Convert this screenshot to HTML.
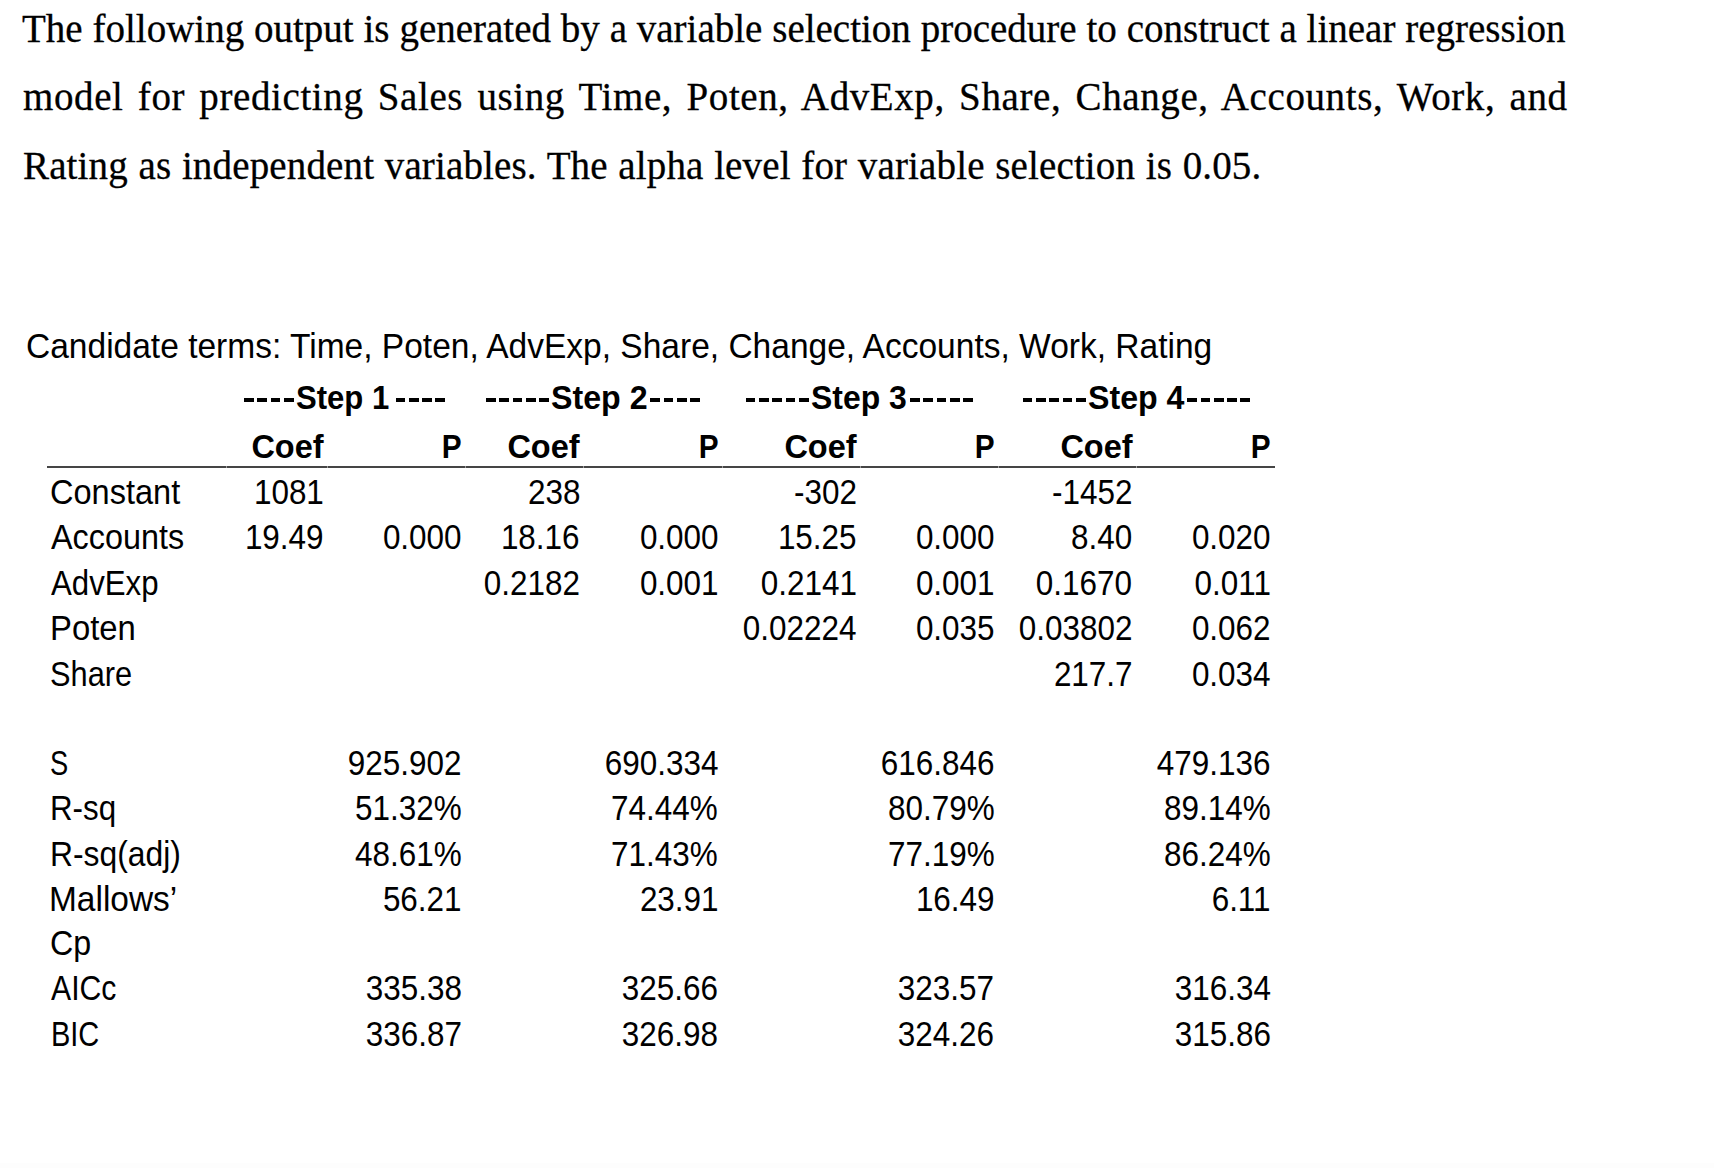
<!DOCTYPE html><html><head><meta charset="utf-8"><style>
html,body{margin:0;padding:0;background:#fff;width:1714px;height:1168px;overflow:hidden}
.a{position:absolute;white-space:nowrap;color:#000}
.s{font-family:"Liberation Serif",serif;font-size:40px;line-height:50px;transform-origin:0 0;transform:scaleX(0.975);-webkit-text-stroke:0.3px #000}
.n{font-family:"Liberation Sans",sans-serif;font-size:35px;line-height:40px}
.b{font-weight:bold;font-size:34px}
.r{text-align:right;transform-origin:100% 0;transform:scaleX(0.8986)}
.l{transform-origin:0 0}
.d{letter-spacing:2.3px}
.st{display:inline-block;transform:scaleX(0.91)}
</style></head><body>
<div class="a s" style="left:22.0px;top:4px;letter-spacing:0.000px;word-spacing:0.103px">The following output is generated by a variable selection procedure to construct a linear regression</div>
<div class="a s" style="left:22.7px;top:71.8px;letter-spacing:0.615px;word-spacing:4.062px">model for predicting Sales using Time, Poten, AdvExp, Share, Change, Accounts, Work, and</div>
<div class="a s" style="left:23.2px;top:140.7px;letter-spacing:0.154px;word-spacing:0.718px">Rating as independent variables. The alpha level for variable selection is 0.05.</div>
<div class="a n l" style="left:26.3px;top:326.2px;font-size:35px;transform:scaleX(0.9577)">Candidate terms: Time, Poten, AdvExp, Share, Change, Accounts, Work, Rating</div>
<div style="position:absolute;left:243.90px;top:398px;width:9.80px;height:4px;background:#000"></div>
<div style="position:absolute;left:257.20px;top:398px;width:9.80px;height:4px;background:#000"></div>
<div style="position:absolute;left:270.50px;top:398px;width:9.80px;height:4px;background:#000"></div>
<div style="position:absolute;left:283.80px;top:398px;width:9.80px;height:4px;background:#000"></div>
<div style="position:absolute;left:395.50px;top:398px;width:9.80px;height:4px;background:#000"></div>
<div style="position:absolute;left:408.80px;top:398px;width:9.80px;height:4px;background:#000"></div>
<div style="position:absolute;left:422.10px;top:398px;width:9.80px;height:4px;background:#000"></div>
<div style="position:absolute;left:435.40px;top:398px;width:9.80px;height:4px;background:#000"></div>
<div class="a n b l" style="left:295.99px;top:376.5px;transform:scaleX(0.9140)">Step 1</div>
<div style="position:absolute;left:486.00px;top:398px;width:9.80px;height:4px;background:#000"></div>
<div style="position:absolute;left:499.30px;top:398px;width:9.80px;height:4px;background:#000"></div>
<div style="position:absolute;left:512.60px;top:398px;width:9.80px;height:4px;background:#000"></div>
<div style="position:absolute;left:525.90px;top:398px;width:9.80px;height:4px;background:#000"></div>
<div style="position:absolute;left:539.20px;top:398px;width:9.80px;height:4px;background:#000"></div>
<div style="position:absolute;left:650.40px;top:398px;width:9.80px;height:4px;background:#000"></div>
<div style="position:absolute;left:663.70px;top:398px;width:9.80px;height:4px;background:#000"></div>
<div style="position:absolute;left:677.00px;top:398px;width:9.80px;height:4px;background:#000"></div>
<div style="position:absolute;left:690.30px;top:398px;width:9.80px;height:4px;background:#000"></div>
<div class="a n b l" style="left:550.85px;top:376.5px;transform:scaleX(0.9460)">Step 2</div>
<div style="position:absolute;left:745.60px;top:398px;width:9.80px;height:4px;background:#000"></div>
<div style="position:absolute;left:758.90px;top:398px;width:9.80px;height:4px;background:#000"></div>
<div style="position:absolute;left:772.20px;top:398px;width:9.80px;height:4px;background:#000"></div>
<div style="position:absolute;left:785.50px;top:398px;width:9.80px;height:4px;background:#000"></div>
<div style="position:absolute;left:798.80px;top:398px;width:9.80px;height:4px;background:#000"></div>
<div style="position:absolute;left:910.10px;top:398px;width:9.80px;height:4px;background:#000"></div>
<div style="position:absolute;left:923.40px;top:398px;width:9.80px;height:4px;background:#000"></div>
<div style="position:absolute;left:936.70px;top:398px;width:9.80px;height:4px;background:#000"></div>
<div style="position:absolute;left:950.00px;top:398px;width:9.80px;height:4px;background:#000"></div>
<div style="position:absolute;left:963.30px;top:398px;width:9.80px;height:4px;background:#000"></div>
<div class="a n b l" style="left:811.16px;top:376.5px;transform:scaleX(0.9380)">Step 3</div>
<div style="position:absolute;left:1022.70px;top:398px;width:9.80px;height:4px;background:#000"></div>
<div style="position:absolute;left:1036.00px;top:398px;width:9.80px;height:4px;background:#000"></div>
<div style="position:absolute;left:1049.30px;top:398px;width:9.80px;height:4px;background:#000"></div>
<div style="position:absolute;left:1062.60px;top:398px;width:9.80px;height:4px;background:#000"></div>
<div style="position:absolute;left:1075.90px;top:398px;width:9.80px;height:4px;background:#000"></div>
<div style="position:absolute;left:1187.20px;top:398px;width:9.80px;height:4px;background:#000"></div>
<div style="position:absolute;left:1200.50px;top:398px;width:9.80px;height:4px;background:#000"></div>
<div style="position:absolute;left:1213.80px;top:398px;width:9.80px;height:4px;background:#000"></div>
<div style="position:absolute;left:1227.10px;top:398px;width:9.80px;height:4px;background:#000"></div>
<div style="position:absolute;left:1240.40px;top:398px;width:9.80px;height:4px;background:#000"></div>
<div class="a n b l" style="left:1088.26px;top:376.5px;transform:scaleX(0.9450)">Step 4</div>
<div class="a n b" style="right:1390.3px;top:426.1px;text-align:right;transform-origin:100% 0;transform:scaleX(0.955)">Coef</div>
<div class="a n b" style="right:1252.4px;top:426.1px;text-align:right;transform-origin:100% 0;transform:scaleX(0.875)">P</div>
<div class="a n b" style="right:1134.1px;top:426.1px;text-align:right;transform-origin:100% 0;transform:scaleX(0.955)">Coef</div>
<div class="a n b" style="right:995.8px;top:426.1px;text-align:right;transform-origin:100% 0;transform:scaleX(0.875)">P</div>
<div class="a n b" style="right:857.2px;top:426.1px;text-align:right;transform-origin:100% 0;transform:scaleX(0.955)">Coef</div>
<div class="a n b" style="right:719.5px;top:426.1px;text-align:right;transform-origin:100% 0;transform:scaleX(0.875)">P</div>
<div class="a n b" style="right:581.9px;top:426.1px;text-align:right;transform-origin:100% 0;transform:scaleX(0.955)">Coef</div>
<div class="a n b" style="right:443.0px;top:426.1px;text-align:right;transform-origin:100% 0;transform:scaleX(0.875)">P</div>
<div style="position:absolute;left:47px;top:466px;width:1228px;height:2px;background:#454545"></div>
<div style="position:absolute;left:226px;top:466px;width:1px;height:2px;background:#9a9a9a"></div>
<div style="position:absolute;left:327px;top:466px;width:1px;height:2px;background:#9a9a9a"></div>
<div style="position:absolute;left:465px;top:466px;width:1px;height:2px;background:#9a9a9a"></div>
<div style="position:absolute;left:583px;top:466px;width:1px;height:2px;background:#9a9a9a"></div>
<div style="position:absolute;left:722px;top:466px;width:1px;height:2px;background:#9a9a9a"></div>
<div style="position:absolute;left:860px;top:466px;width:1px;height:2px;background:#9a9a9a"></div>
<div style="position:absolute;left:998px;top:466px;width:1px;height:2px;background:#9a9a9a"></div>
<div style="position:absolute;left:1136px;top:466px;width:1px;height:2px;background:#9a9a9a"></div>
<div class="a n l" style="left:49.8px;top:472.1px;transform:scaleX(0.9297)">Constant</div>
<div class="a n r" style="right:1390.3px;top:472.1px;">1081</div>
<div class="a n r" style="right:1134.1px;top:472.1px;">238</div>
<div class="a n r" style="right:857.2px;top:472.1px;">-302</div>
<div class="a n r" style="right:581.9px;top:472.1px;">-1452</div>
<div class="a n l" style="left:50.7px;top:516.9px;transform:scaleX(0.9245)">Accounts</div>
<div class="a n r" style="right:1390.3px;top:516.9px;">19.49</div>
<div class="a n r" style="right:1252.4px;top:516.9px;">0.000</div>
<div class="a n r" style="right:1134.1px;top:516.9px;">18.16</div>
<div class="a n r" style="right:995.8px;top:516.9px;">0.000</div>
<div class="a n r" style="right:857.2px;top:516.9px;">15.25</div>
<div class="a n r" style="right:719.5px;top:516.9px;">0.000</div>
<div class="a n r" style="right:581.9px;top:516.9px;">8.40</div>
<div class="a n r" style="right:443.0px;top:516.9px;">0.020</div>
<div class="a n l" style="left:50.8px;top:562.8px;transform:scaleX(0.8916)">AdvExp</div>
<div class="a n r" style="right:1134.1px;top:562.8px;">0.2182</div>
<div class="a n r" style="right:995.8px;top:562.8px;">0.001</div>
<div class="a n r" style="right:857.2px;top:562.8px;">0.2141</div>
<div class="a n r" style="right:719.5px;top:562.8px;">0.001</div>
<div class="a n r" style="right:581.9px;top:562.8px;">0.1670</div>
<div class="a n r" style="right:443.0px;top:562.8px;">0.011</div>
<div class="a n l" style="left:49.8px;top:607.7px;transform:scaleX(0.9384)">Poten</div>
<div class="a n r" style="right:857.2px;top:607.7px;">0.02224</div>
<div class="a n r" style="right:719.5px;top:607.7px;">0.035</div>
<div class="a n r" style="right:581.9px;top:607.7px;">0.03802</div>
<div class="a n r" style="right:443.0px;top:607.7px;">0.062</div>
<div class="a n l" style="left:49.6px;top:653.9px;transform:scaleX(0.8789)">Share</div>
<div class="a n r" style="right:581.9px;top:653.9px;">217.7</div>
<div class="a n r" style="right:443.0px;top:653.9px;">0.034</div>
<div class="a n l" style="left:49.8px;top:742.8px;transform:scaleX(0.7800)">S</div>
<div class="a n r" style="right:1252.4px;top:742.8px;">925.902</div>
<div class="a n r" style="right:995.8px;top:742.8px;">690.334</div>
<div class="a n r" style="right:719.5px;top:742.8px;">616.846</div>
<div class="a n r" style="right:443.0px;top:742.8px;">479.136</div>
<div class="a n l" style="left:49.9px;top:787.7px;transform:scaleX(0.8942)">R-sq</div>
<div class="a n r" style="right:1252.4px;top:787.7px;">51.32%</div>
<div class="a n r" style="right:995.8px;top:787.7px;">74.44%</div>
<div class="a n r" style="right:719.5px;top:787.7px;">80.79%</div>
<div class="a n r" style="right:443.0px;top:787.7px;">89.14%</div>
<div class="a n l" style="left:49.9px;top:833.9px;transform:scaleX(0.9094)">R-sq(adj)</div>
<div class="a n r" style="right:1252.4px;top:833.9px;">48.61%</div>
<div class="a n r" style="right:995.8px;top:833.9px;">71.43%</div>
<div class="a n r" style="right:719.5px;top:833.9px;">77.19%</div>
<div class="a n r" style="right:443.0px;top:833.9px;">86.24%</div>
<div class="a n l" style="left:49.4px;top:878.8px;transform:scaleX(0.9558)">Mallows’</div>
<div class="a n r" style="right:1252.4px;top:878.8px;">56.21</div>
<div class="a n r" style="right:995.8px;top:878.8px;">23.91</div>
<div class="a n r" style="right:719.5px;top:878.8px;">16.49</div>
<div class="a n r" style="right:443.0px;top:878.8px;">6.11</div>
<div class="a n l" style="left:49.8px;top:922.8px;transform:scaleX(0.9195)">Cp</div>
<div class="a n l" style="left:50.8px;top:968.2px;transform:scaleX(0.8627)">AICc</div>
<div class="a n r" style="right:1252.4px;top:968.2px;">335.38</div>
<div class="a n r" style="right:995.8px;top:968.2px;">325.66</div>
<div class="a n r" style="right:719.5px;top:968.2px;">323.57</div>
<div class="a n r" style="right:443.0px;top:968.2px;">316.34</div>
<div class="a n l" style="left:50.6px;top:1013.7px;transform:scaleX(0.8278)">BIC</div>
<div class="a n r" style="right:1252.4px;top:1013.7px;">336.87</div>
<div class="a n r" style="right:995.8px;top:1013.7px;">326.98</div>
<div class="a n r" style="right:719.5px;top:1013.7px;">324.26</div>
<div class="a n r" style="right:443.0px;top:1013.7px;">315.86</div>
<div style="position:absolute;left:0;top:1163px;width:1714px;height:5px;background:#fdfdfd"></div>
</body></html>
